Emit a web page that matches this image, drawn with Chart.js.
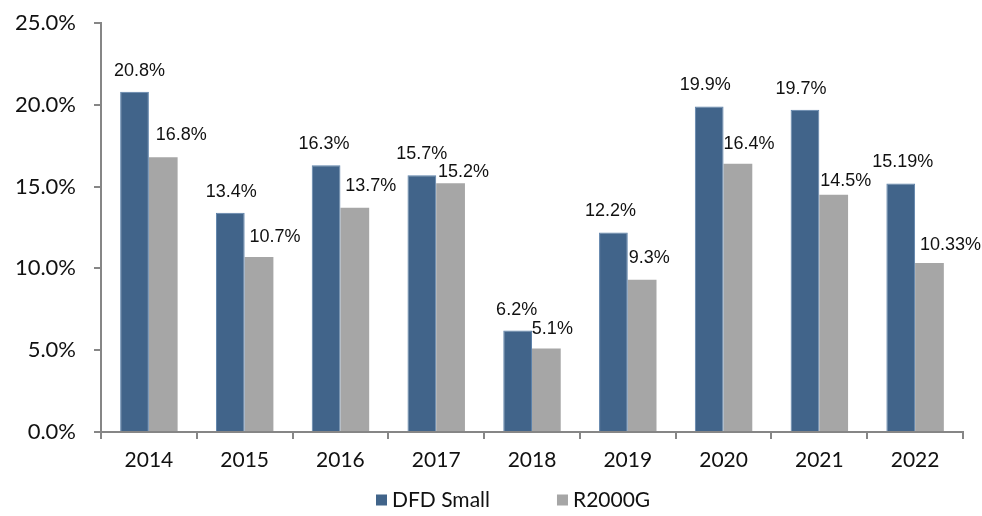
<!DOCTYPE html>
<html>
<head>
<meta charset="utf-8">
<script src="https://cdn.jsdelivr.net/npm/chart.js@4.4.1/dist/chart.umd.min.js"></script>
<style>
  html, body { margin: 0; padding: 0; background: #fff; }
  #wrap { width: 982px; height: 516px; }
</style>
</head>
<body>
<div id="wrap"><canvas id="chart"></canvas></div>
<script>
// data
const years = ["2014", "2015", "2016", "2017", "2018", "2019", "2020", "2021", "2022"];
const dfdSmall = [20.8, 13.4, 16.3, 15.7, 6.2, 12.2, 19.9, 19.7, 15.19];
const r2000g = [16.8, 10.7, 13.7, 15.2, 5.1, 9.3, 16.4, 14.5, 10.33];
const dfdLabels = ["20.8%", "13.4%", "16.3%", "15.7%", "6.2%", "12.2%", "19.9%", "19.7%", "15.19%"];
const r2000Labels = ["16.8%", "10.7%", "13.7%", "15.2%", "5.1%", "9.3%", "16.4%", "14.5%", "10.33%"];
const yTicks = [0, 5, 10, 15, 20, 25];

// manual nudges of the value labels (like the hand-placed ones in the original)
const labelShift = [
  { dx: [5, 1, -2, 0, -1, -3, -4, -4, 2], dy: [-21, -21, -21, -21, -21, -21, -21, -21, -21] },
  { dx: [18, 16, 16, 13, 6, 7, 11, 12, 21], dy: [-22, -20, -22, -11, -20, -22, -20, -14, -18] },
];

const BLUE = "#41648A";
const GRAY = "#A6A6A6";
const AXIS = "#868686";

// value labels above bars
const valueLabels = {
  id: "valueLabels",
  afterDatasetsDraw(chart) {
    const { ctx } = chart;
    ctx.save();
    ctx.font = "18px 'Liberation Sans', Arial, sans-serif";
    ctx.fillStyle = "#111";
    ctx.textAlign = "center";
    ctx.textBaseline = "middle";
    chart.data.datasets.forEach((ds, i) => {
      chart.getDatasetMeta(i).data.forEach((bar, j) => {
        const s = labelShift[i];
        ctx.fillText(ds.labelText[j], bar.x + s.dx[j], bar.y + s.dy[j]);
      });
    });
    ctx.restore();
  },
};

// legend drawn below the axis, square markers like the original
const squareLegend = {
  id: "squareLegend",
  afterDraw(chart) {
    const { ctx } = chart;
    const box = 11, gap = 5, spacing = 67;
    ctx.save();
    ctx.font = "21px Lato";
    ctx.textBaseline = "middle";
    let x = 376;
    const y = 500;
    chart.data.datasets.forEach((d) => {
      ctx.fillStyle = d.backgroundColor;
      ctx.fillRect(x, y - box / 2, box, box);
      ctx.fillStyle = "#111";
      ctx.fillText(d.label, x + box + gap, y);
      x += box + gap + ctx.measureText(d.label).width + spacing;
    });
    ctx.restore();
  },
};

new Chart(document.getElementById("chart"), {
  type: "bar",
  data: {
    labels: years,
    datasets: [
      {
        label: "DFD Small",
        data: dfdSmall,
        labelText: dfdLabels,
        backgroundColor: BLUE,
        borderColor: "#5D82AA",
        borderWidth: 1,
        barPercentage: 1,
        categoryPercentage: 0.6,
      },
      {
        label: "R2000G",
        data: r2000g,
        labelText: r2000Labels,
        backgroundColor: GRAY,
        borderWidth: 0,
        barPercentage: 1,
        categoryPercentage: 0.6,
      },
    ],
  },
  options: {
    responsive: true,
    maintainAspectRatio: false,
    animation: false,
    layout: { padding: { top: 23, right: 19, left: 0, bottom: 0 } },
    plugins: { legend: { display: false }, tooltip: { enabled: false } },
    scales: {
      x: {
        grid: { drawOnChartArea: false, drawTicks: true, tickLength: 7, color: AXIS, lineWidth: 2 },
        border: { color: AXIS, width: 2 },
        ticks: { font: { family: "Lato", size: 21 }, color: "#111", padding: 9, maxRotation: 0 },
        afterFit(s) { s.height = 84; s.paddingLeft = 0; s.paddingRight = 0; },
      },
      y: {
        min: 0,
        max: 25,
        afterBuildTicks(s) { s.ticks = yTicks.map((v) => ({ value: v })); },
        grid: { drawOnChartArea: false, drawTicks: true, tickLength: 7, color: AXIS, lineWidth: 2 },
        border: { color: AXIS, width: 2 },
        ticks: {
          font: { family: "Lato", size: 22 },
          color: "#111",
          padding: 18,
          callback: (v) => v.toFixed(1) + "%",
        },
        afterFit(s) { s.width = 101; s.paddingTop = 0; s.paddingBottom = 0; },
      },
    },
  },
  plugins: [valueLabels, squareLegend],
});
</script>
</body>
</html>
